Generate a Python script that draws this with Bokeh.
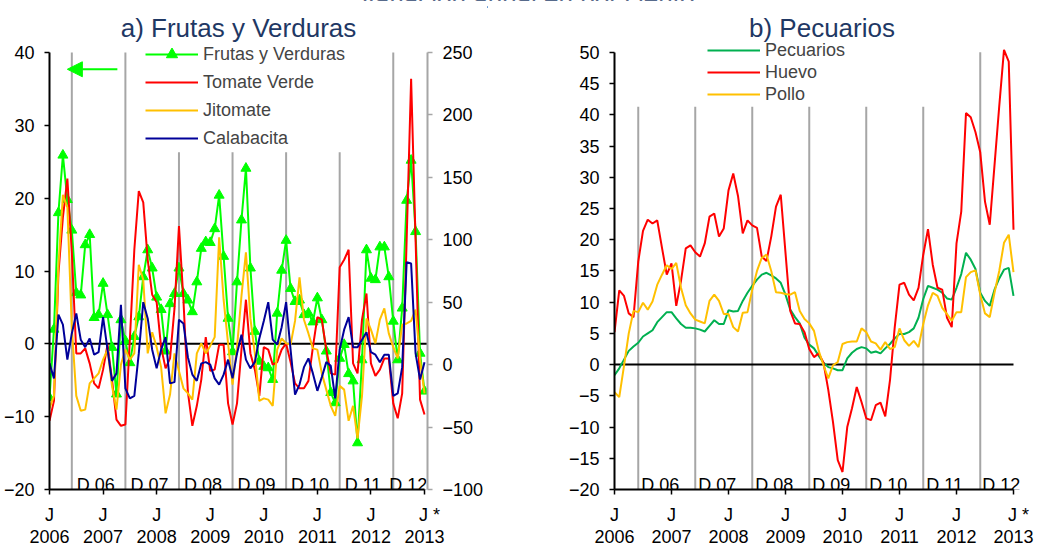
from bokeh.plotting import figure
from bokeh.models import (Range1d, LinearAxis, FixedTicker, Span, Legend, LegendItem,
                          Arrow, NormalHead, Div)
from bokeh.layouts import row, column
from bokeh.embed import file_html
from bokeh.resources import INLINE
from bokeh.core.properties import value

# ---------------- data (monthly, Jul 2006 .. Jul 2013) ----------------
years = ["2006", "2007", "2008", "2009", "2010", "2011", "2012", "2013"]
dec_labels = ["D 06", "D 07", "D 08", "D 09", "D 10", "D 11", "D 12"]

frutas = [-7.4, 2.0, 18.0, 25.9, 19.8, 15.6, 7.0, 6.7, 13.6, 15.0,
          3.6, 4.0, 8.3, 4.0, -0.5, -6.9, 3.3, 0.4, -2.6, 1.0,
          3.7, 9.2, 12.9, 10.4, 6.4, 4.7, -1.0, 5.5, 6.9, 10.4,
          6.9, 6.0, 4.4, 8.5, 13.1, 14.0, 13.9, 15.8, 20.4, 12.0,
          3.5, -1.1, 8.5, 17.0, 24.1, 10.4, 1.7, -2.4, -3.1, -3.3,
          -4.9, 4.2, 10.1, 14.2, 7.6, 5.8, 6.0, 4.0, 4.2, 3.0,
          6.3, 3.3, -1.0, -6.7, -8.1, -2.0, -0.1, -4.1, -5.1, -13.6,
          -2.2, 12.9, 9.0, 8.8, 13.3, 13.3, 9.2, 3.1, -2.2, 4.9,
          19.7, 25.2, 15.4, -1.3, -6.5]
tomate = [-45, -29, 73, 118, 149, 90, 9, 9, 13, 1,
          -15, -19, -4, 16, -12, -44, -49, -48, 20, 92,
          139, 130, 84, 56, 50, 14, -3, 5, 45, 111,
          52, -22, -49, -33, -12, 22, -5, -4, 16, 16,
          -31, -48, -31, 12, 52, 9, -4, -25, 14, 12,
          0, 2, 12, 17, 2, -15, -19, -19, -13, 14,
          38, 36, 12, -7, -8, 78, 84, 92, 1, -7,
          36, 57, 1, -9, -4, 5, 5, -31, -43, -23,
          100, 229, 100, -28, -40]
jitomate = [-35, -25, 79, 136, 126, 30, -25, -37, -36, -15,
            -11, -7, 4, 12, -17, -36, 0, 12, 4, 9,
            80, 68, 9, 26, 14, -2, -39, -24, 9, -5,
            -19, -23, -28, 9, 17, 9, 15, 22, 102, 52,
            17, -16, 14, 55, 90, 37, 9, -29, -27, -28,
            -33, 12, 21, 17, 16, 35, 70, 36, 25, 13,
            12, -7, -20, -33, -41, -17, -20, -45, -33, -59,
            -25, 37, 28, 17, 36, 45, 25, 14, 5, 32,
            33, 35, 44, 4, -23]
calabacita = [1, -11, 40, 32, 4, 25, 41, 20, 14, 21,
              8, 10, 38, 12, -13, -7, 48, -19, -27, -25,
              9, 50, 37, 12, -3, 12, 22, -15, -14, 36,
              33, 6, -8, -13, 1, 2, 0, -11, -16, -8,
              4, -11, 9, 24, 4, -3, 2, 21, 35, 50,
              20, 16, 30, 50, 12, -24, -16, -2, 5, -7,
              -21, -10, 2, -1, -27, 12, 28, 38, 14, 14,
              20, 26, 10, 8, 2, 8, 8, -25, -23, -2,
              82, 81, 9, -12, 2]
pecuarios = [-1.7, -0.6, 0.8, 2.2, 2.9, 3.5, 4.5, 5.0, 5.5, 6.8,
             7.6, 8.4, 8.4, 7.4, 6.5, 5.9, 5.9, 5.8, 5.6, 5.3,
             6.2, 7.1, 6.5, 6.5, 8.7, 8.5, 8.6, 10.2, 11.5, 12.6,
             13.6, 14.4, 14.7, 14.3, 13.8, 13.1, 11.2, 8.8, 7.6, 6.6,
             4.3, 3.2, 2.6, 1.4, 0.3, -0.4, -0.6, -0.9, -0.9, 1.0,
             1.9, 2.5, 2.8, 2.6, 1.9, 2.1, 1.8, 2.6, 3.3, 4.2,
             4.9, 4.9, 5.2, 5.8, 7.5, 10.5, 12.6, 12.3, 12.0, 11.5,
             10.6, 10.4, 12.3, 14.5, 17.9, 16.8, 15.3, 11.5, 10.2, 9.4,
             12.0, 13.8, 15.2, 15.5, 11.0]
huevo = [5.2, 11.9, 11.0, 8.2, 7.6, 16.5, 21.4, 23.2, 22.6, 23.1,
         18.7, 14.4, 16.2, 9.4, 13.4, 18.6, 19.1, 18.0, 17.3, 19.4,
         23.7, 24.2, 20.5, 21.8, 27.9, 30.6, 27.0, 21.0, 23.1, 22.3,
         21.9, 17.3, 16.6, 20.5, 25.3, 27.2, 17.9, 8.6, 6.6, 6.5,
         5.2, 2.5, 1.2, 1.8, 0.3, -4.0, -9.2, -15.3, -17.2, -10.0,
         -7.0, -3.6, -6.0, -8.6, -8.9, -6.5, -6.1, -8.3, -2.5, 6.0,
         12.8, 13.1, 11.2, 10.3, 12.3, 17.6, 21.7, 16.0, 12.3, 12.0,
         7.5, 6.0, 19.4, 24.5, 40.3, 39.6, 37.2, 34.0, 26.1, 22.4,
         31.9, 41.4, 50.4, 48.5, 21.6]
pollo = [-4.4, -5.2, -0.2, 5.0, 8.6, 8.4, 9.9, 8.8, 10.1, 12.8,
         14.4, 15.9, 15.3, 16.3, 12.3, 9.5, 8.2, 7.2, 6.9, 6.6,
         10.2, 11.2, 10.2, 8.1, 8.1, 6.0, 5.3, 8.3, 8.4, 12.0,
         15.0, 17.1, 17.6, 15.0, 11.6, 11.5, 11.3, 11.2, 11.6, 8.6,
         7.3, 6.6, 5.4, 2.2, -0.1, -2.2, -0.1, 0.4, 3.3, 3.6,
         3.7, 3.7, 5.8, 5.2, 3.7, 3.4, 2.4, 3.6, 2.5, 2.8,
         5.8, 3.9, 3.0, 3.8, 2.8, 6.5, 9.5, 11.5, 11.0, 9.1,
         8.1, 7.0, 8.4, 8.4, 14.0, 14.8, 15.1, 11.2, 8.2, 7.6,
         11.5, 15.0, 19.5, 20.8, 14.8]

# ---------------- derived positions ----------------
n = len(frutas)
x = list(range(n))
last = n - 1
jul_ticks = list(range(0, n, 12))                        # every July
dec_pos = [5 + 12 * k for k in range(len(dec_labels))]    # every December

FONT = "Liberation Sans"
TITLE_C = "#1F3864"
GRAY = "#A6A6A6"
C_FR, C_TV, C_JI, C_CA = "#00FF00", "#FF0000", "#FFC000", "#000099"
C_PE, C_HU, C_PO = "#00B050", "#FF0000", "#FFC000"
NB = "\u00a0"


def style_fig(p):
    p.xgrid.visible = False
    p.ygrid.visible = False
    p.outline_line_color = None
    p.background_fill_color = "white"
    p.border_fill_color = "white"
    p.title.text_font = FONT
    p.title.text_font_size = "26px"
    p.title.text_font_style = "normal"
    p.title.text_color = TITLE_C
    p.title.align = "center"
    p.title.standoff = -12


def style_axis(ax, color="black"):
    ax.axis_line_color = color
    ax.axis_line_width = 2
    ax.major_tick_line_color = color
    ax.major_tick_line_width = 1.5
    ax.major_tick_out = 5
    ax.major_tick_in = 0
    ax.minor_tick_line_color = None
    ax.major_label_text_font = FONT
    ax.major_label_text_font_size = "18px"
    ax.major_label_text_color = "black"


def x_axes(p):
    ax = p.xaxis[0]
    style_axis(ax)
    ax.bounds = (0, last)
    ax.ticker = FixedTicker(ticks=jul_ticks)
    labels = {t: "J" for t in jul_ticks}
    labels[jul_ticks[-1]] = NB + NB + "J" + NB + "*"
    ax.major_label_overrides = labels
    ax.major_label_standoff = 10
    ay = LinearAxis(ticker=FixedTicker(ticks=jul_ticks),
                    major_label_overrides={t: years[k] for k, t in enumerate(jul_ticks)})
    style_axis(ay)
    ay.axis_line_color = None
    ay.major_tick_line_color = None
    ay.major_label_standoff = -3
    p.add_layout(ay, "below")


def dec_text(p, xs, labels, dx):
    p.text(x=xs, y=[-20] * len(xs), text=labels, x_offset=dx, y_offset=-5,
           text_baseline="alphabetic", text_font=value(FONT), text_font_size="18px",
           text_color="black")


# ---------------- panel a ----------------
p1 = figure(width=487, height=545, x_range=Range1d(0, 84.67), y_range=Range1d(-20, 42.2),
            output_backend="svg", toolbar_location=None, title="a) Frutas y Verduras",
            min_border_left=49, min_border_right=60, min_border_top=36, min_border_bottom=55)
style_fig(p1)
p1.extra_y_ranges = {"right": Range1d(-100, 262.8)}
style_axis(p1.yaxis[0])
p1.yaxis[0].bounds = (-20, 40)
p1.yaxis[0].ticker = FixedTicker(ticks=list(range(-20, 41, 10)))
p1.yaxis[0].major_label_standoff = 10
rax = LinearAxis(y_range_name="right", ticker=FixedTicker(ticks=list(range(-100, 251, 50))),
                 bounds=(-100, 250))
style_axis(rax, GRAY)
rax.major_label_standoff = 10
p1.add_layout(rax, "right")
x_axes(p1)

p1.segment(x0=dec_pos, y0=[-20] * 7, x1=dec_pos, y1=[40, 40, 26.3, 26.3, 26.3, 26.3, 40],
           line_color=GRAY, line_width=2)
p1.add_layout(Span(location=0, dimension="width", line_color="black", line_width=2, level="underlay"))
dec_text(p1, dec_pos[:-1], dec_labels[:-1], 5)
dec_text(p1, dec_pos[-1:], dec_labels[-1:], -4)

l_fr = p1.line(x, frutas, line_color=C_FR, line_width=2)
s_fr = p1.scatter(x, frutas, marker="triangle", size=10, fill_color=C_FR, line_color=C_FR)
l_tv = p1.line(x, tomate, line_color=C_TV, line_width=2, y_range_name="right")
l_ji = p1.line(x, jitomate, line_color=C_JI, line_width=2, y_range_name="right")
l_ca = p1.line(x, calabacita, line_color=C_CA, line_width=2, y_range_name="right")

leg1 = Legend(items=[LegendItem(label="Frutas y Verduras", renderers=[l_fr, s_fr]),
                     LegendItem(label="Tomate Verde", renderers=[l_tv]),
                     LegendItem(label="Jitomate", renderers=[l_ji]),
                     LegendItem(label="Calabacita", renderers=[l_ca])],
              location=(96, 337), label_text_font=FONT, label_text_font_size="18px",
              glyph_width=53, glyph_height=28, label_height=28, spacing=0, padding=2, margin=0,
              label_standoff=5, border_line_color=None, background_fill_alpha=0)
p1.add_layout(leg1)
p1.add_layout(Arrow(end=NormalHead(size=15, fill_color=C_FR, line_color=C_FR),
                    x_start=15.2, y_start=37.7, x_end=4.0, y_end=37.7,
                    line_color=C_FR, line_width=2))

# ---------------- panel b ----------------
p2 = figure(width=550, height=545, x_range=Range1d(0, 87.37), y_range=Range1d(-20, 52.54),
            output_backend="svg", toolbar_location=None, title="b) Pecuarios",
            min_border_left=127, min_border_right=8, min_border_top=36, min_border_bottom=52)
style_fig(p2)
style_axis(p2.yaxis[0])
p2.yaxis[0].bounds = (-20, 50)
p2.yaxis[0].ticker = FixedTicker(ticks=list(range(-20, 51, 5)))
p2.yaxis[0].major_label_standoff = 10
x_axes(p2)

p2.segment(x0=dec_pos, y0=[-20] * 7, x1=dec_pos, y1=[41.3] * 6 + [50],
           line_color=GRAY, line_width=2)
p2.segment(x0=[0], y0=[0], x1=[last], y1=[0], line_color="black", line_width=2)
dec_text(p2, dec_pos[:-1], dec_labels[:-1], 3)
dec_text(p2, dec_pos[-1:], dec_labels[-1:], 2)

l_pe = p2.line(x, pecuarios, line_color=C_PE, line_width=2)
l_hu = p2.line(x, huevo, line_color=C_HU, line_width=2)
l_po = p2.line(x, pollo, line_color=C_PO, line_width=2)
leg2 = Legend(items=[LegendItem(label="Pecuarios", renderers=[l_pe]),
                     LegendItem(label="Huevo", renderers=[l_hu]),
                     LegendItem(label="Pollo", renderers=[l_po])],
              location=(93, 384), label_text_font=FONT, label_text_font_size="18px",
              glyph_width=53, glyph_height=22, label_height=22, spacing=0, padding=2, margin=0,
              label_standoff=5, border_line_color=None, background_fill_alpha=0)
p2.add_layout(leg2)

sup = Div(text="Variación anual en por ciento", width=1020, height=20, margin=(-20, 0, 0, 17),
          styles={"font-family": FONT, "font-size": "26px", "line-height": "38px",
                  "color": TITLE_C, "text-align": "center", "white-space": "nowrap"})

layout = column(sup, row(p1, p2, spacing=0), spacing=0)
open("out.html", "w").write(file_html(layout, INLINE))
